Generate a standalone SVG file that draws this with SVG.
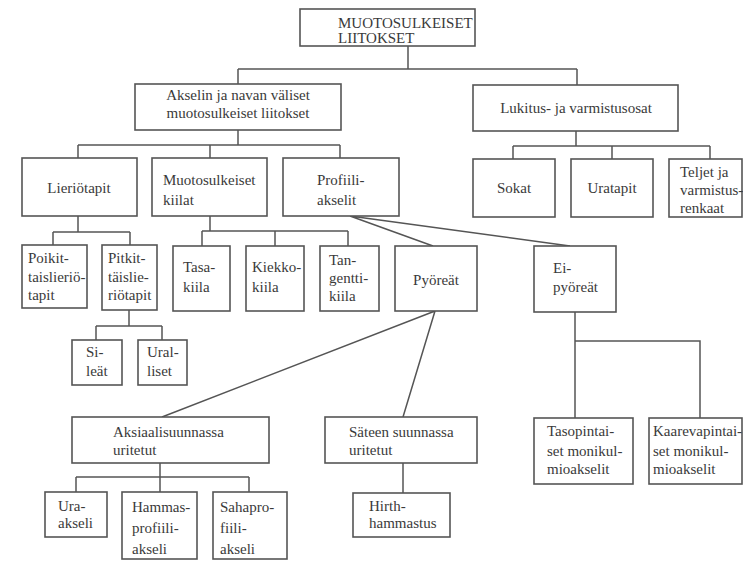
<svg xmlns="http://www.w3.org/2000/svg" width="743" height="568" viewBox="0 0 743 568">
<style>
.b{fill:#fff;stroke:#555;stroke-width:1.6}
.c{fill:none;stroke:#555;stroke-width:1.5}
text{font-family:"Liberation Serif","Times New Roman",serif;font-size:15px;fill:#3a3a3a}
.m{text-anchor:middle}
</style>
<rect width="743" height="568" fill="#fff"/>
<g id="connectors" class="c">
<path d="M408,46V69M238,69H577M238,69V84M577,69V85"/>
<path d="M238,130V145M78,145H340M78,145V158M210,145V158M340,145V158"/>
<path d="M576,131V146M513,146H710M513,146V159M612,146V159M710,146V159"/>
<path d="M78,216V232M53,232H130M53,232V245M130,232V245"/>
<path d="M129,310V326M96,326H162M96,326V340M162,326V340"/>
<path d="M210,216V231M202,231H348M202,231V246M275,231V246M348,231V246"/>
<path d="M350,216L433,246M350,216L570,246"/>
<path d="M435,311L162,417M435,311L403,417"/>
<path d="M575,312V418M575,341H700V418"/>
<path d="M160,463V477M76,477H249M76,477V492M160,477V492M249,477V492"/>
<path d="M403,463V493"/>
</g>
<g id="n-root"><rect class="b" x="300" y="9" width="175" height="37"/><text x="338" y="28">MUOTOSULKEISET</text><text x="338" y="43">LIITOKSET</text></g>
<g id="n-akselin"><rect class="b" x="135" y="84" width="206" height="46"/><text class="m" x="238" y="100">Akselin ja navan väliset</text><text class="m" x="238" y="118">muotosulkeiset liitokset</text></g>
<g id="n-lukitus"><rect class="b" x="473" y="85" width="205" height="46"/><text class="m" x="576" y="113">Lukitus- ja varmistusosat</text></g>
<g id="n-lieriotapit"><rect class="b" x="22" y="158" width="115" height="58"/><text class="m" x="79" y="193">Lieriötapit</text></g>
<g id="n-kiilat"><rect class="b" x="152" y="158" width="115" height="58"/><text x="163" y="185">Muotosulkeiset</text><text x="163" y="205">kiilat</text></g>
<g id="n-profiili"><rect class="b" x="283" y="158" width="116" height="58"/><text x="317" y="185">Profiili-</text><text x="317" y="205">akselit</text></g>
<g id="n-sokat"><rect class="b" x="473" y="159" width="82" height="58"/><text class="m" x="514" y="193">Sokat</text></g>
<g id="n-uratapit"><rect class="b" x="571" y="159" width="82" height="58"/><text class="m" x="612" y="193">Uratapit</text></g>
<g id="n-teljet"><rect class="b" x="669" y="159" width="73" height="58"/><text x="680" y="177">Teljet ja</text><text x="680" y="195">varmistus-</text><text x="680" y="213">renkaat</text></g>
<g id="n-poikit"><rect class="b" x="22" y="245" width="65" height="63"/><text x="28" y="263">Poikit-</text><text x="28" y="282">taislieriö-</text><text x="28" y="300">tapit</text></g>
<g id="n-pitkit"><rect class="b" x="102" y="245" width="55" height="65"/><text x="108" y="263">Pitkit-</text><text x="108" y="282">täislie-</text><text x="108" y="300">riötapit</text></g>
<g id="n-tasa"><rect class="b" x="173" y="246" width="57" height="65"/><text x="183" y="272">Tasa-</text><text x="183" y="292">kiila</text></g>
<g id="n-kiekko"><rect class="b" x="246" y="246" width="58" height="65"/><text x="252" y="272">Kiekko-</text><text x="252" y="292">kiila</text></g>
<g id="n-tangentti"><rect class="b" x="320" y="246" width="59" height="65"/><text x="329" y="265">Tan-</text><text x="329" y="283">gentti-</text><text x="329" y="301">kiila</text></g>
<g id="n-pyoreat"><rect class="b" x="395" y="246" width="82" height="65"/><text class="m" x="436" y="285">Pyöreät</text></g>
<g id="n-eipyoreat"><rect class="b" x="534" y="246" width="82" height="66"/><text x="553" y="273">Ei-</text><text x="553" y="292">pyöreät</text></g>
<g id="n-sileat"><rect class="b" x="72" y="340" width="50" height="45"/><text x="86" y="357">Si-</text><text x="86" y="376">leät</text></g>
<g id="n-uralliset"><rect class="b" x="138" y="340" width="49" height="45"/><text x="147" y="357">Ural-</text><text x="147" y="376">liset</text></g>
<g id="n-aksiaali"><rect class="b" x="72" y="417" width="197" height="46"/><text x="113" y="437">Aksiaalisuunnassa</text><text x="113" y="455">uritetut</text></g>
<g id="n-sateen"><rect class="b" x="325" y="417" width="152" height="46"/><text x="349" y="437">Säteen suunnassa</text><text x="349" y="455">uritetut</text></g>
<g id="n-tasopinta"><rect class="b" x="534" y="418" width="99" height="66"/><text x="547" y="436">Tasopintai-</text><text x="547" y="456">set monikul-</text><text x="547" y="474">mioakselit</text></g>
<g id="n-kaarevapinta"><rect class="b" x="649" y="418" width="93" height="66"/><text x="653" y="436" font-size="14.5">Kaarevapintai-</text><text x="653" y="456">set monikul-</text><text x="653" y="474">mioakselit</text></g>
<g id="n-ura"><rect class="b" x="45" y="492" width="62" height="45"/><text x="58" y="511">Ura-</text><text x="58" y="528">akseli</text></g>
<g id="n-hammas"><rect class="b" x="122" y="492" width="75" height="67"/><text x="132" y="512">Hammas-</text><text x="132" y="533">profiili-</text><text x="132" y="554">akseli</text></g>
<g id="n-sahapro"><rect class="b" x="213" y="492" width="74" height="67"/><text x="220" y="512">Sahapro-</text><text x="220" y="533">fiili-</text><text x="220" y="554">akseli</text></g>
<g id="n-hirth"><rect class="b" x="353" y="493" width="97" height="44"/><text x="369" y="511">Hirth-</text><text x="369" y="528">hammastus</text></g>
</svg>
